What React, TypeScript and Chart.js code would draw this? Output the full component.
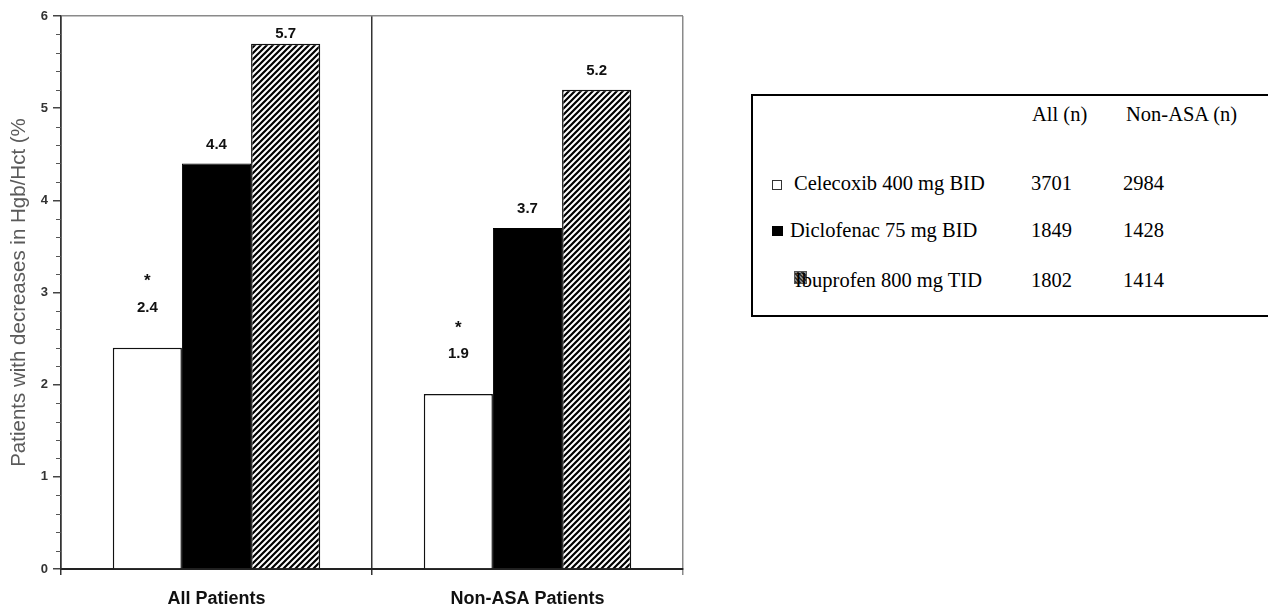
import React, { useEffect, useRef } from "react";
import { Chart, registerables } from "chart.js";

Chart.register(...registerables);

// ---- data ----
const categories = ["All Patients", "Non-ASA Patients"];
const seriesNames = ["Celecoxib 400 mg BID", "Diclofenac 75 mg BID", "Ibuprofen 800 mg TID"];
const celecoxib = [2.4, 1.9];
const diclofenac = [4.4, 3.7];
const ibuprofen = [5.7, 5.2];
const significant = [true, false, false];
const allN = [3701, 1849, 1802];
const nonAsaN = [2984, 1428, 1414];
const tableHeaders = ["All (n)", "Non-ASA (n)"];
const yTitle = "Patients with decreases in Hgb/Hct (%";
const yMin = 0;
const yMax = 6;
const yStep = 1;

const SANS = "'Liberation Sans', Arial, sans-serif";
const SERIF = "'Liberation Serif', 'Times New Roman', serif";

function makeHatch(): CanvasPattern | string {
  const s = 6;
  const c = document.createElement("canvas");
  c.width = s;
  c.height = s;
  const g = c.getContext("2d");
  if (!g) return "#888";
  g.fillStyle = "#fff";
  g.fillRect(0, 0, s, s);
  g.strokeStyle = "#000";
  g.lineWidth = 2.2;
  g.beginPath();
  g.moveTo(0, s);
  g.lineTo(s, 0);
  g.moveTo(-1, 1);
  g.lineTo(1, -1);
  g.moveTo(s - 1, s + 1);
  g.lineTo(s + 1, s - 1);
  g.stroke();
  return g.createPattern(c, "repeat") || "#888";
}

const minorTicks = {
  id: "minorTicks",
  afterDraw(chart: any) {
    const y = chart.scales.y;
    const ctx = chart.ctx;
    const left = chart.chartArea.left;
    ctx.save();
    ctx.strokeStyle = "#555";
    ctx.lineWidth = 1;
    const n = Math.round((yMax - yMin) / yStep) * 5;
    for (let i = 1; i < n; i++) {
      if (i % 5 === 0) continue;
      const v = yMin + (i * yStep) / 5;
      const py = Math.round(y.getPixelForValue(v)) + 0.5;
      ctx.beginPath();
      ctx.moveTo(left - 5, py);
      ctx.lineTo(left, py);
      ctx.stroke();
    }
    ctx.restore();
  },
};

const valueLabels = {
  id: "valueLabels",
  afterDatasetsDraw(chart: any) {
    const ctx = chart.ctx;
    const top = chart.chartArea.top;
    ctx.save();
    ctx.fillStyle = "#111";
    ctx.textAlign = "center";
    ctx.textBaseline = "middle";
    chart.data.datasets.forEach((ds: any, di: number) => {
      const meta = chart.getDatasetMeta(di);
      meta.data.forEach((el: any, i: number) => {
        const v = ds.data[i] as number;
        const off = significant[di] ? 40 : 19;
        const ly = Math.max(el.y - off, top + 18);
        ctx.font = `bold 15px ${SANS}`;
        ctx.fillText(v.toFixed(1), el.x, ly);
        if (significant[di]) {
          ctx.font = `bold 17px ${SANS}`;
          ctx.fillText("*", el.x, el.y - 66);
        }
      });
    });
    ctx.restore();
  },
};

function ChartView() {
  const ref = useRef<HTMLCanvasElement | null>(null);
  useEffect(() => {
    if (!ref.current) return;
    const hatch = makeHatch();
    const chart = new Chart(ref.current, {
      type: "bar",
      data: {
        labels: categories,
        datasets: [
          { label: seriesNames[0], data: celecoxib, backgroundColor: "#ffffff", borderColor: "#111", borderWidth: 1.5 },
          { label: seriesNames[1], data: diclofenac, backgroundColor: "#000000", borderColor: "#000", borderWidth: 1 },
          { label: seriesNames[2], data: ibuprofen, backgroundColor: hatch as any, borderColor: "#111", borderWidth: 1.5 },
        ],
      },
      options: {
        animation: false,
        responsive: false,
        maintainAspectRatio: false,
        devicePixelRatio: 1,
        layout: { padding: { top: 16, right: 17, bottom: 0, left: 0 } },
        datasets: { bar: { categoryPercentage: 0.667, barPercentage: 1 } } as any,
        plugins: { legend: { display: false }, tooltip: { enabled: false } },
        scales: {
          x: {
            grid: {
              offset: true,
              drawOnChartArea: true,
              color: (c: any) => (c.type === "scale" ? "#8a8a8a" : "#333"),
              lineWidth: 1.5,
              tickLength: 6,
            },
            border: { color: "#222", width: 2 },
            ticks: { font: { family: SANS, size: 18, weight: "bold" }, color: "#111", padding: 13 },
            afterFit: (s: any) => {
              s.height = 40;
            },
          },
          y: {
            min: yMin,
            max: yMax,
            ticks: { stepSize: yStep, font: { family: SANS, size: 13, weight: "bold" }, color: "#333", padding: 5 },
            grid: {
              color: (c: any) => (c.tick && c.tick.value === yMax ? "#8a8a8a" : "rgba(0,0,0,0)"),
              tickColor: "#444",
              tickLength: 8,
              lineWidth: 1.5,
            },
            border: { color: "#333", width: 1.5 },
            title: {
              display: true,
              text: yTitle,
              font: { family: SANS, size: 20.5 },
              color: "#5a5a5a",
              padding: { top: 7, bottom: 0 },
            },
            afterFit: (s: any) => {
              s.width = 61;
            },
          },
        },
      },
      plugins: [minorTicks, valueLabels],
    });
    return () => chart.destroy();
  }, []);
  return <canvas ref={ref} width={700} height={609} style={{ position: "absolute", left: 0, top: 0, width: 700, height: 609 }} />;
}

const rowCenters = [183, 230, 280];
const headerCenter = 114;
const colX = [1031, 1123];
const headerX = [1032, 1126];
const nameX = [794, 790, 795];

function cell(text: string, left: number, center: number, key: string) {
  return (
    <span
      key={key}
      style={{
        position: "absolute",
        left,
        top: center - 12,
        height: 24,
        lineHeight: "24px",
        whiteSpace: "nowrap",
        fontFamily: SERIF,
        fontSize: 20.5,
        color: "#000",
      }}
    >
      {text}
    </span>
  );
}

export default function App() {
  return (
    <div style={{ position: "fixed", left: 0, top: 0, width: 1268, height: 609, overflow: "hidden", background: "#fff" }}>
      <ChartView />
      <div
        style={{
          position: "absolute",
          left: 751,
          top: 94,
          width: 560,
          height: 223,
          boxSizing: "border-box",
          border: "2px solid #000",
        }}
      />
      {tableHeaders.map((h, i) => cell(h, headerX[i], headerCenter, "h" + i))}
      <span style={{ position: "absolute", left: 772, top: 180, width: 8, height: 8, border: "1px solid #333", background: "#fff" }} />
      <span style={{ position: "absolute", left: 772, top: 226, width: 11, height: 10, background: "#000" }} />
      <span
        style={{
          position: "absolute",
          left: 794,
          top: 271,
          width: 11,
          height: 11,
          border: "1px solid #555",
          background: "repeating-linear-gradient(45deg, #333 0px, #333 1.5px, #8a8a8a 1.5px, #8a8a8a 3px)",
        }}
      />
      {seriesNames.map((n, i) => (
        <React.Fragment key={"r" + i}>
          {cell(n, nameX[i], rowCenters[i], "n" + i)}
          {cell(String(allN[i]), colX[0], rowCenters[i], "a" + i)}
          {cell(String(nonAsaN[i]), colX[1], rowCenters[i], "b" + i)}
        </React.Fragment>
      ))}
    </div>
  );
}
